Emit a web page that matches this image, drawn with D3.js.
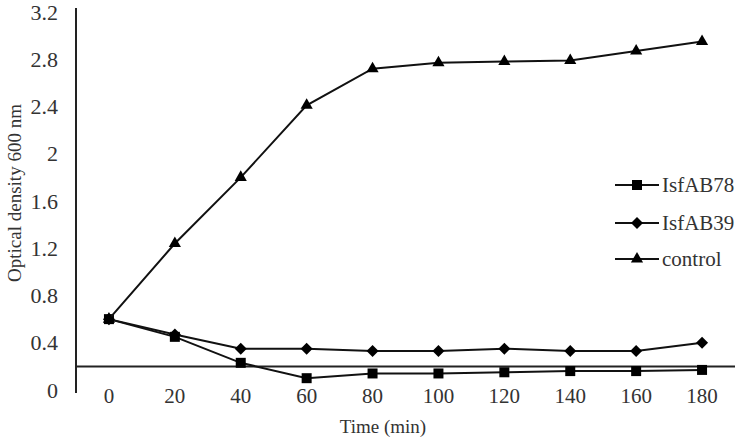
<!DOCTYPE html>
<html lang="en">
<head>
<meta charset="UTF-8">
<title>Optical density</title>
<style>
  body { margin: 0; background: #fff; }
  svg text { font-family: "Liberation Serif", "Times New Roman", Times, serif !important; }
</style>
</head>
<body>
<svg id="chart" width="738" height="438"></svg>
<script src="https://d3js.org/d3.v7.min.js"></script>
<script>
const times = [0, 20, 40, 60, 80, 100, 120, 140, 160, 180];
const isfAB78 = [0.60, 0.45, 0.23, 0.10, 0.14, 0.14, 0.15, 0.16, 0.16, 0.17];
const isfAB39 = [0.60, 0.47, 0.35, 0.35, 0.33, 0.33, 0.35, 0.33, 0.33, 0.40];
const control = [0.60, 1.24, 1.80, 2.41, 2.72, 2.77, 2.78, 2.79, 2.87, 2.95];
const yTicks = [0, 0.4, 0.8, 1.2, 1.6, 2, 2.4, 2.8, 3.2];

const series = [
  { name: "IsfAB78", values: isfAB78, marker: "square" },
  { name: "IsfAB39", values: isfAB39, marker: "diamond" },
  { name: "control", values: control, marker: "triangle" }
];

const TXT = "#333";

const svg = d3.select("#chart");

const x = d3.scaleBand().domain(times).range([76, 735]).padding(0);
const y = d3.scaleLinear().domain([0, 3.2]).range([390, 12]);
const cx = t => x(t) + x.bandwidth() / 2;

function symbolFor(kind) {
  if (kind === "square") return d3.symbol(d3.symbolSquare, 100)();
  if (kind === "diamond") return "M0,-6L6,0L0,6L-6,0Z";
  return d3.symbol(d3.symbolTriangle, 64)();
}

// y axis labels
const yAxis = svg.append("g")
  .attr("transform", "translate(58,0)")
  .call(d3.axisLeft(y).tickValues(yTicks).tickSize(0).tickPadding(0)
    .tickFormat(d => d3.format("~g")(d)));
yAxis.attr("font-size", 22);
yAxis.select(".domain").remove();
yAxis.selectAll("text").attr("fill", TXT);

// vertical axis line
svg.append("line")
  .attr("x1", 76).attr("x2", 76)
  .attr("y1", y(3.2) - 4).attr("y2", y(0) + 3)
  .attr("stroke", "#222").attr("stroke-width", 2);

// horizontal axis line crossing at 0.2
svg.append("line")
  .attr("x1", 76).attr("x2", 735)
  .attr("y1", y(0.2)).attr("y2", y(0.2))
  .attr("stroke", "#222").attr("stroke-width", 2);

// x labels
const xAxis = svg.append("g")
  .attr("transform", "translate(0,388)")
  .call(d3.axisBottom(x).tickSize(0).tickPadding(0));
xAxis.attr("font-size", 21);
xAxis.select(".domain").remove();
xAxis.selectAll("text").attr("fill", TXT);

// axis titles
svg.append("text")
  .attr("x", 383).attr("y", 433)
  .attr("text-anchor", "middle")
  .attr("font-size", 19)
  .attr("fill", TXT)
  .text("Time (min)");

svg.append("text")
  .attr("transform", "translate(21,193) rotate(-90)")
  .attr("text-anchor", "middle")
  .attr("font-size", 19)
  .attr("fill", TXT)
  .text("Optical density 600 nm");

// lines + markers
const line = d3.line().x(d => cx(d.t)).y(d => y(d.v));

series.forEach(s => {
  const pts = times.map((t, i) => ({ t: t, v: s.values[i] }));
  svg.append("path")
    .datum(pts)
    .attr("d", line)
    .attr("fill", "none")
    .attr("stroke", "#111")
    .attr("stroke-width", 2);
  svg.append("g").selectAll("path")
    .data(pts)
    .enter().append("path")
    .attr("transform", d => `translate(${cx(d.t)},${y(d.v)})`)
    .attr("d", symbolFor(s.marker))
    .attr("fill", "#000");
});

// legend
const legend = svg.append("g");
const legendY = [185, 223, 259];
series.forEach((s, i) => {
  const g = legend.append("g").attr("transform", `translate(0,${legendY[i]})`);
  g.append("line")
    .attr("x1", 615).attr("x2", 659)
    .attr("stroke", "#111").attr("stroke-width", 2);
  g.append("path")
    .attr("transform", "translate(637,0)")
    .attr("d", symbolFor(s.marker))
    .attr("fill", "#000");
  g.append("text")
    .attr("x", 662).attr("y", 0)
    .attr("dy", "0.35em")
    .attr("font-size", 21)
    .attr("fill", TXT)
    .text(s.name);
});
</script>
</body>
</html>
